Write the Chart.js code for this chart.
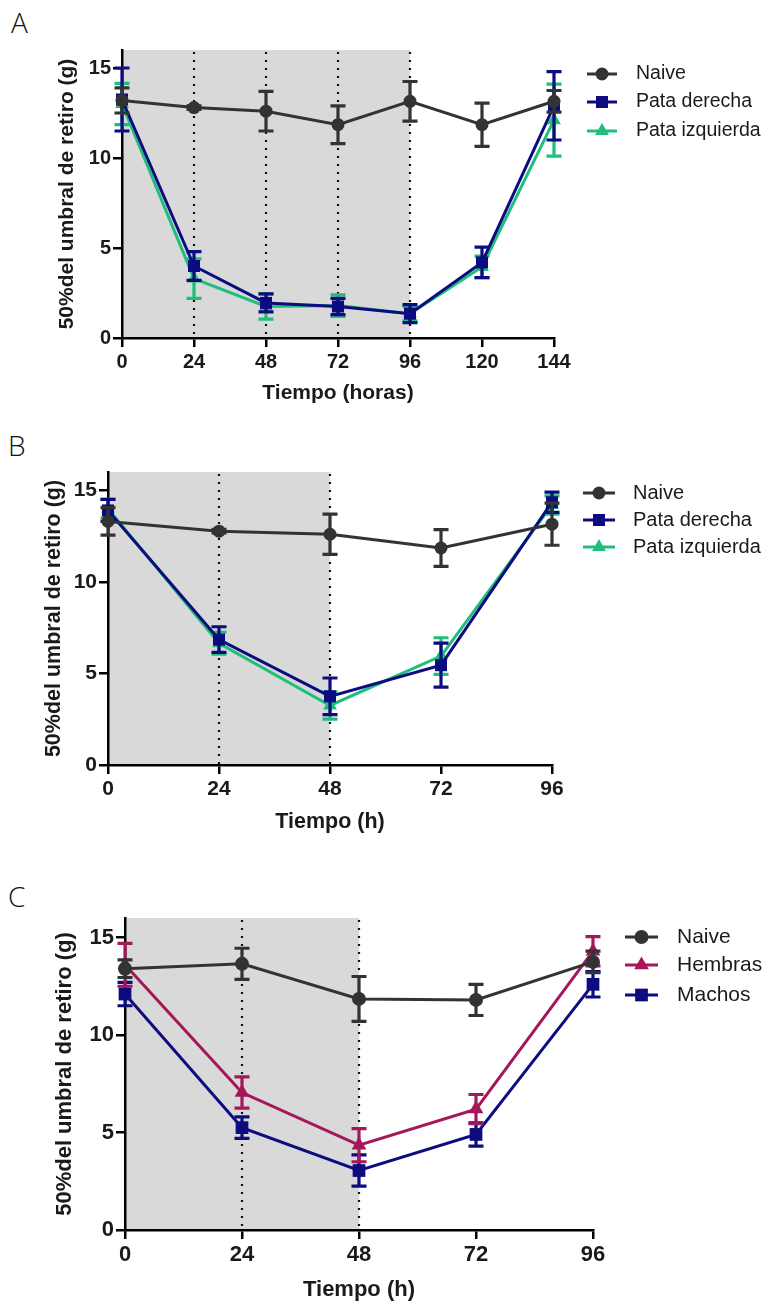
<!DOCTYPE html>
<html>
<head>
<meta charset="utf-8">
<script src="https://cdn.jsdelivr.net/npm/chart.js@4.4.0/dist/chart.umd.min.js"></script>
<style>
  body { margin: 0; background: #fff; width: 767px; height: 1304px; position: relative; overflow: hidden; }
  .panel { position: absolute; left: 0; width: 767px; }
  .tag { position: absolute; font-family: 'Open Sans', 'Noto Sans', sans-serif; font-weight: 300; font-size: 28px; line-height: 1; color: #111; }
</style>
</head>
<body>
<div class="tag" style="left:11px;top:8px">A</div>
<div class="tag" style="left:8px;top:431px">B</div>
<div class="tag" style="left:8px;top:882px">C</div>
<div class="panel" id="pA"><canvas id="chartA"></canvas></div>
<div class="panel" id="pB"><canvas id="chartB"></canvas></div>
<div class="panel" id="pC"><canvas id="chartC"></canvas></div>
<script>
// y ticks shared by all three panels
const yTickVals = [0, 5, 10, 15];

// Panel A - time in hours
const hoursA = [0, 24, 48, 72, 96, 120, 144];
const naiveA = [13.2, 12.8, 12.6, 11.85, 13.15, 11.85, 13.15];
const naiveAErr = [0.7, 0.1, 1.1, 1.05, 1.1, 1.2, 0.6];
const derechaA = [13.25, 4.0, 1.95, 1.75, 1.35, 4.2, 12.9];
const derechaAErr = [1.75, 0.8, 0.5, 0.45, 0.5, 0.85, 1.9];
const izquierdaA = [13.0, 3.3, 1.75, 1.8, 1.35, 3.95, 12.1];
const izquierdaAErr = [1.15, 1.1, 0.7, 0.6, 0.4, 0.6, 2.0];
const labelsA = ['Naive', 'Pata derecha', 'Pata izquierda'];

// Panel B
const hoursB = [0, 24, 48, 72, 96];
const naiveB = [13.3, 12.77, 12.6, 11.85, 13.15];
const naiveBErr = [0.75, 0.1, 1.1, 1.0, 1.15];
const derechaB = [13.9, 6.85, 3.75, 5.45, 14.35];
const derechaBErr = [0.6, 0.7, 1.0, 1.2, 0.55];
const izquierdaB = [14.0, 6.65, 3.25, 5.95, 14.2];
const izquierdaBErr = [0.5, 0.6, 0.75, 1.0, 0.5];
const labelsB = ['Naive', 'Pata derecha', 'Pata izquierda'];

// Panel C
const hoursC = [0, 24, 48, 72, 96];
const naiveC = [13.4, 13.65, 11.85, 11.8, 13.75];
const naiveCErr = [0.45, 0.8, 1.15, 0.8, 0.55];
const hembrasC = [13.6, 7.05, 4.35, 6.2, 14.3];
const hembrasCErr = [1.1, 0.8, 0.85, 0.75, 0.75];
const machosC = [12.1, 5.25, 3.05, 4.9, 12.6];
const machosCErr = [0.6, 0.55, 0.8, 0.6, 0.65];
const labelsC = ['Naive', 'Hembras', 'Machos'];

const DARK = '#333333', NAVY = '#0c0c80', GREEN = '#1fbf7b', CRIMSON = '#a4185a';
const FONT = '"Liberation Sans", Arial, sans-serif';

function series(xs, ys) {
  return xs.map((x, i) => ({ x: x, y: ys[i] }));
}

function ds(label, xs, ys, errs, color, style, r) {
  return {
    label: label, data: series(xs, ys), errors: errs,
    borderColor: color, backgroundColor: color,
    pointStyle: style, pointRadius: r, pointHoverRadius: r,
    pointBorderWidth: 0, borderWidth: 3, tension: 0, clip: false
  };
}

// gray shaded period + dotted verticals
const shadePlugin = {
  id: 'shade',
  beforeDraw(chart, args, o) {
    const ctx = chart.ctx, a = chart.chartArea, x = chart.scales.x;
    ctx.save();
    ctx.fillStyle = '#d9d9d9';
    const x1 = x.getPixelForValue(o.to);
    ctx.fillRect(a.left, a.top, x1 - a.left, a.bottom - a.top);
    ctx.strokeStyle = '#111';
    ctx.lineWidth = 2.2;
    ctx.setLineDash([2, 6]);
    o.lines.forEach(v => {
      const px = Math.round(x.getPixelForValue(v));
      ctx.beginPath();
      ctx.moveTo(px, a.top + 2);
      ctx.lineTo(px, a.bottom);
      ctx.stroke();
    });
    ctx.restore();
  }
};

// SEM bars, drawn right after each dataset
const errorBars = {
  id: 'errorBars',
  afterDatasetDraw(chart, args) {
    const d = chart.data.datasets[args.index];
    const y = chart.scales.y, ctx = chart.ctx;
    ctx.save();
    ctx.strokeStyle = d.borderColor;
    ctx.lineWidth = 3.2;
    args.meta.data.forEach((pt, i) => {
      const e = d.errors[i], v = d.data[i].y;
      const top = y.getPixelForValue(v + e), bot = y.getPixelForValue(v - e);
      ctx.beginPath();
      ctx.moveTo(pt.x, top); ctx.lineTo(pt.x, bot);
      ctx.moveTo(pt.x - 7.5, top); ctx.lineTo(pt.x + 7.5, top);
      ctx.moveTo(pt.x - 7.5, bot); ctx.lineTo(pt.x + 7.5, bot);
      ctx.stroke();
    });
    ctx.restore();
  }
};

// GraphPad-like legend: line with symbol, then label
const sideLegend = {
  id: 'sideLegend',
  afterDraw(chart, args, o) {
    const ctx = chart.ctx;
    ctx.save();
    chart.data.datasets.forEach((d, i) => {
      const yy = o.rows[i];
      ctx.strokeStyle = d.borderColor;
      ctx.lineWidth = 3;
      ctx.beginPath();
      ctx.moveTo(o.x1, yy); ctx.lineTo(o.x2, yy);
      ctx.stroke();
      ctx.fillStyle = d.backgroundColor;
      Chart.helpers.drawPoint(ctx, { pointStyle: d.pointStyle, radius: d.pointRadius, rotation: 0, borderWidth: 0 }, (o.x1 + o.x2) / 2, yy);
      ctx.fillStyle = '#1a1a1a';
      ctx.font = o.size + 'px ' + FONT;
      ctx.textBaseline = 'middle';
      ctx.textAlign = 'left';
      ctx.fillText(d.label, o.tx, yy);
    });
    ctx.restore();
  }
};

function buildPanel(id, p, datasets) {
  const cv = document.getElementById(id);
  cv.width = 767; cv.height = p.h;
  cv.parentNode.style.top = p.top + 'px';
  const lh = p.titleSize * 1.2;
  const xH = p.xTitleY - p.area.bottom + lh / 2;
  const padLeft = p.yTitleX - lh / 2;
  const bottom = p.area.bottom - p.top;
  const tickFont = { family: FONT, weight: 'bold', size: p.tickSize };
  const titleFont = { family: FONT, weight: 'bold', size: p.titleSize };
  const axisGrid = { drawOnChartArea: false, color: '#000', lineWidth: 2.5, tickLength: 9 };
  const axisBorder = { display: true, color: '#000', width: 2.5 };
  new Chart(cv, {
    type: 'line',
    data: { datasets: datasets },
    options: {
      responsive: false,
      animation: false,
      events: [],
      layout: { padding: { left: padLeft, top: p.area.top - p.top, right: 767 - p.area.right, bottom: p.h - bottom - xH } },
      plugins: {
        legend: { display: false },
        tooltip: { enabled: false },
        shade: { to: p.shadeTo, lines: p.dotted },
        sideLegend: { x1: p.leg.x1, x2: p.leg.x2, tx: p.leg.tx, size: p.leg.size, rows: p.leg.rows.map(r => r - p.top) }
      },
      scales: {
        x: {
          type: 'linear', min: 0, max: p.xTicks[p.xTicks.length - 1],
          afterBuildTicks: s => { s.ticks = p.xTicks.map(v => ({ value: v })); },
          afterFit: s => { s.height = xH; },
          grid: axisGrid, border: axisBorder,
          ticks: { font: tickFont, color: '#1a1a1a', padding: 3, maxRotation: 0, autoSkip: false },
          title: { display: true, text: p.xTitle, font: titleFont, color: '#1a1a1a', padding: 0 }
        },
        y: {
          min: 0, max: 16,
          afterBuildTicks: s => { s.ticks = yTickVals.map(v => ({ value: v })); },
          afterFit: s => { s.width = p.area.left - padLeft; },
          grid: axisGrid, border: axisBorder,
          ticks: { font: tickFont, color: '#1a1a1a', padding: 2 },
          title: { display: true, text: '50%del umbral de retiro (g)', font: titleFont, color: '#1a1a1a', padding: 0 }
        }
      }
    },
    plugins: [shadePlugin, errorBars, sideLegend]
  });
}

function buildAll() {
  buildPanel('chartA', {
    top: 0, h: 425, area: { left: 122, right: 554, top: 50, bottom: 338 },
    xTicks: hoursA, shadeTo: 96, dotted: [24, 48, 72, 96],
    xTitle: 'Tiempo (horas)', xTitleY: 393, yTitleX: 67, tickSize: 20, titleSize: 21,
    leg: { x1: 587, x2: 617, tx: 636, size: 19.5, rows: [74, 102, 131] }
  }, [
    ds(labelsA[0], hoursA, naiveA, naiveAErr, DARK, 'circle', 6.5),
    ds(labelsA[1], hoursA, derechaA, derechaAErr, NAVY, 'rect', 8.5),
    ds(labelsA[2], hoursA, izquierdaA, izquierdaAErr, GREEN, 'triangle', 8)
  ]);

  buildPanel('chartB', {
    top: 425, h: 440, area: { left: 108, right: 552, top: 472, bottom: 765 },
    xTicks: hoursB, shadeTo: 48, dotted: [24, 48],
    xTitle: 'Tiempo (h)', xTitleY: 822, yTitleX: 54, tickSize: 21, titleSize: 21.5,
    leg: { x1: 583, x2: 615, tx: 633, size: 20, rows: [493, 520, 547] }
  }, [
    ds(labelsB[0], hoursB, naiveB, naiveBErr, DARK, 'circle', 6.5),
    ds(labelsB[1], hoursB, derechaB, derechaBErr, NAVY, 'rect', 8.5),
    ds(labelsB[2], hoursB, izquierdaB, izquierdaBErr, GREEN, 'triangle', 8)
  ]);

  buildPanel('chartC', {
    top: 865, h: 439, area: { left: 125, right: 593, top: 918, bottom: 1230 },
    xTicks: hoursC, shadeTo: 48, dotted: [24, 48],
    xTitle: 'Tiempo (h)', xTitleY: 1290, yTitleX: 65, tickSize: 22, titleSize: 22,
    leg: { x1: 625, x2: 658, tx: 677, size: 21, rows: [937, 965, 995] }
  }, [
    ds(labelsC[0], hoursC, naiveC, naiveCErr, DARK, 'circle', 7),
    ds(labelsC[1], hoursC, hembrasC, hembrasCErr, CRIMSON, 'triangle', 8.5),
    ds(labelsC[2], hoursC, machosC, machosCErr, NAVY, 'rect', 9)
  ]);
}

// make sure the faces are ready before the canvases draw text
Promise.all([
  document.fonts.load('bold 20px "Liberation Sans"'),
  document.fonts.load('20px "Liberation Sans"')
]).then(buildAll, buildAll);
</script>
</body>
</html>
